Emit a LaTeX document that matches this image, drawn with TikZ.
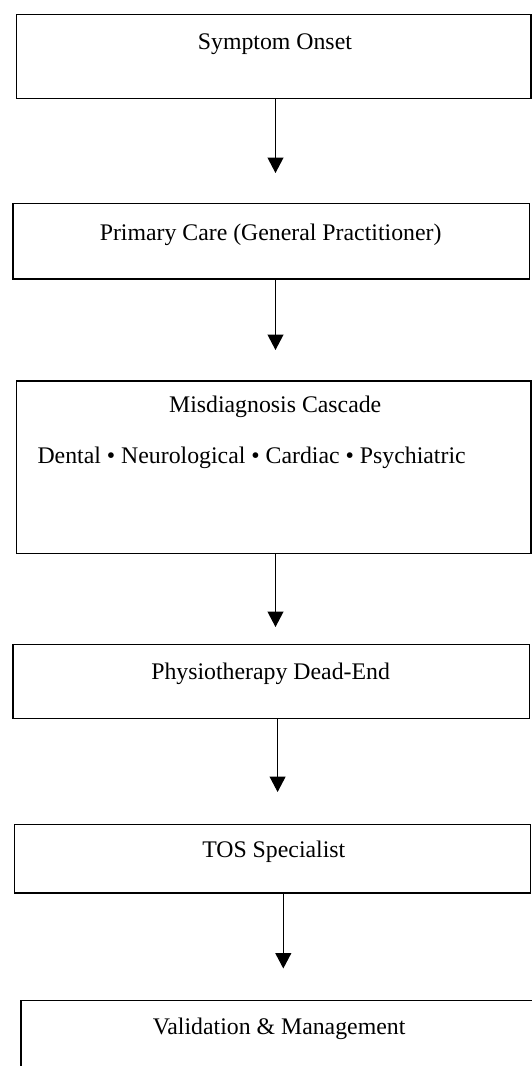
\documentclass[tikz,border=0pt]{standalone}
\usepackage{fontspec}
\setmainfont{Liberation Serif}
\usetikzlibrary{arrows.meta}
\tikzset{
  box/.style={draw=black, line width=1.5pt, rectangle, inner sep=0pt, outer sep=0pt},
  lbl/.style={inner sep=0pt, font=\fontsize{23.8}{28}\selectfont, anchor=base},
  arr/.style={draw=black, line width=1.1pt, -{Triangle[width=16pt,length=15.5pt]}}
}
\begin{document}
\begin{tikzpicture}[x=1pt, y=-1pt]
\path[use as bounding box] (0,0) rectangle (532,1066);
\clip (0,0) rectangle (532,1066);
\fill[white] (0,0) rectangle (532,1066);

\node[box, minimum width=514.5pt, minimum height=84pt] (b1) at (273.75,56.5) {};
\node[box, minimum width=516.5pt, minimum height=75.5pt] (b2) at (271.25,241.25) {};
\node[box, minimum width=514.7pt, minimum height=172.7pt] (b3) at (273.65,467.35) {};
\node[box, minimum width=516.5pt, minimum height=74pt] (b4) at (271.25,681.4) {};
\node[box, minimum width=516.1pt, minimum height=68.3pt] (b5) at (272.35,858.75) {};
\node[box, minimum width=524pt, minimum height=79.5pt] (b6) at (283,1040.25) {};

\node[lbl] (t1) at (274.9,49.2) {Symptom Onset};
\node[lbl] (t2) at (270.6,240.9) {Primary Care (General Practitioner)};
\node[lbl] (t3a) at (275.2,412.2) {Misdiagnosis Cascade};
\node[lbl, anchor=base west] (t3b) at (37.3,463.8) {Dental • Neurological • Cardiac • Psychiatric};
\node[lbl] (t4) at (270.6,679.4) {Physiotherapy Dead-End};
\node[lbl] (t5) at (273.8,857.5) {TOS Specialist};
\node[lbl] (t6) at (279.1,1034.8) {Validation \& Management};

\coordinate (e1) at (275.5,173);
\coordinate (e2) at (275.5,350);
\coordinate (e3) at (275.5,627);
\coordinate (e4) at (277.6,792);
\coordinate (e5) at (283.3,968.5);

\draw[arr] (b1.south -| e1) -- (e1);
\draw[arr] (b2.south -| e2) -- (e2);
\draw[arr] (b3.south -| e3) -- (e3);
\draw[arr] (b4.south -| e4) -- (e4);
\draw[arr] (b5.south -| e5) -- (e5);
\end{tikzpicture}
\end{document}
